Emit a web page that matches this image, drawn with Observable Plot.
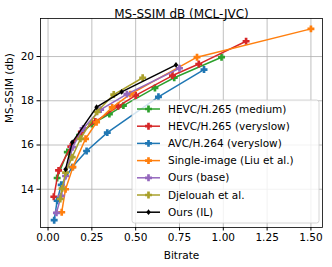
<!DOCTYPE html>
<html><head><meta charset="utf-8">
<script src="https://cdn.jsdelivr.net/npm/d3@7"></script>
<script src="https://cdn.jsdelivr.net/npm/@observablehq/plot@0.6"></script>
<style>body{margin:0;background:#fff;font-family:"DejaVu Sans",sans-serif}</style>
</head><body><div id="chart"></div>
<script>
const seriesNames = ["HEVC/H.265 (medium)","HEVC/H.265 (veryslow)","AVC/H.264 (veryslow)","Single-image (Liu et al.)","Ours (base)","Djelouah et al.","Ours (IL)"];
const seriesColors = ["#2ca02c","#d62728","#1f77b4","#ff7f0e","#9467bd","#a9a02c","#000000"];
const hevcMediumX = [0.052,0.11,0.18,0.25,0.35,0.43,0.61,0.72,0.99];
const hevcMediumY = [14.51,15.68,16.45,16.95,17.4,17.78,18.58,19.04,19.97];
const hevcSlowX = [0.033,0.06,0.13,0.19,0.27,0.40,0.50,0.71,0.86,1.13];
const hevcSlowY = [13.66,14.85,15.93,16.6,17.06,17.75,18.24,19.14,19.66,20.69];
const avcX = [0.035,0.052,0.075,0.138,0.22,0.338,0.63,0.89];
const avcY = [12.6,13.48,14.2,15.0,15.73,16.56,18.18,19.41];
const singleX = [0.078,0.10,0.142,0.214,0.277,0.366,0.47,0.85,1.50];
const singleY = [12.96,14.0,15.0,16.28,17.03,17.7,18.3,19.97,21.25];
const oursBaseX = [0.048,0.075,0.10,0.14,0.20,0.30,0.45,0.75];
const oursBaseY = [12.93,13.7,14.6,15.9,16.75,17.6,18.3,19.47];
const djelouahX = [0.07,0.08,0.10,0.138,0.185,0.28,0.375,0.54];
const djelouahY = [13.56,14.03,14.75,15.45,16.28,17.5,18.28,19.04];
const oursILX = [0.10,0.138,0.277,0.42,0.73];
const oursILY = [14.9,16.12,17.71,18.4,19.62];
const xTicks = [0,0.25,0.5,0.75,1.0,1.25,1.5];
const yTicks = [14,16,18,20];

const allX = [hevcMediumX,hevcSlowX,avcX,singleX,oursBaseX,djelouahX,oursILX];
const allY = [hevcMediumY,hevcSlowY,avcY,singleY,oursBaseY,djelouahY,oursILY];
const rows = [];
allX.forEach((xs,i)=>xs.forEach((x,j)=>rows.push({s:i,name:seriesNames[i],x,y:allY[i][j]})));

const plusFilled = {draw(ctx,size){const a=Math.sqrt(size/Math.PI)*1.05,h=a/2.6;
 ctx.moveTo(-h,-a);ctx.lineTo(h,-a);ctx.lineTo(h,-h);ctx.lineTo(a,-h);ctx.lineTo(a,h);ctx.lineTo(h,h);ctx.lineTo(h,a);ctx.lineTo(-h,a);ctx.lineTo(-h,h);ctx.lineTo(-a,h);ctx.lineTo(-a,-h);ctx.lineTo(-h,-h);ctx.closePath();}};
const diamond = {draw(ctx,size){const a=Math.sqrt(size/Math.PI)*1.1;ctx.moveTo(0,-a);ctx.lineTo(a*0.8,0);ctx.lineTo(0,a);ctx.lineTo(-a*0.8,0);ctx.closePath();}};

const marks = [
 Plot.gridX(xTicks,{stroke:"#b0b0b0",strokeOpacity:1,strokeWidth:0.8}),
 Plot.gridY(yTicks,{stroke:"#b0b0b0",strokeOpacity:1,strokeWidth:0.8}),
 Plot.frame({stroke:"#000",strokeWidth:0.8}),
 Plot.axisX({ticks:xTicks,tickFormat:d3.format(".2f"),tickSize:3.5,tickPadding:3,fontSize:10.5,label:null,color:"#000"}),
 Plot.axisY({ticks:yTicks,tickSize:3.5,tickPadding:3,fontSize:10.5,label:null}),
];
for(let i=0;i<seriesNames.length;i++){
 const d = rows.filter(r=>r.s===i);
 marks.push(Plot.line(d,{x:"x",y:"y",stroke:seriesColors[i],strokeWidth:1.5}));
 marks.push(Plot.dot(d,{x:"x",y:"y",fill:seriesColors[i],stroke:"none",r:i===6?2.6:3.3,symbol:i===6?diamond:plusFilled}));
}
marks.push(Plot.text(["MS-SSIM dB (MCL-JVC)"],{frameAnchor:"top",dy:-9,fontSize:12,fill:"#000"}));
marks.push(Plot.text(["Bitrate"],{frameAnchor:"bottom",dy:31,fontSize:10.5,fill:"#000"}));
marks.push(Plot.text(["MS-SSIM (db)"],{frameAnchor:"left",dx:-31,rotate:-90,fontSize:10.5,fill:"#000"}));

const chart = Plot.plot({
 width:332,height:267,marginLeft:40,marginRight:10,marginTop:18,marginBottom:40,
 style:{fontFamily:"DejaVu Sans, sans-serif",fontSize:"10.5px",color:"#000",background:"#fff"},
 x:{domain:[-0.043,1.566]},
 y:{domain:[12.27,21.72]},
 marks
});
document.getElementById("chart").append(chart);

// legend overlay
const svg = d3.select(chart);
const lg = svg.append("g").attr("text-anchor","start");
lg.append("rect").attr("x",132).attr("y",100).attr("width",187).attr("height",123).attr("rx",2.5)
 .attr("fill","#fff").attr("fill-opacity",0.8).attr("stroke","#cccccc").attr("stroke-width",0.8);
seriesNames.forEach((n,i)=>{
 const cy = 109 + i*17.2;
 lg.append("line").attr("x1",137).attr("x2",160).attr("y1",cy).attr("y2",cy).attr("stroke",seriesColors[i]).attr("stroke-width",1.5);
 const sym = d3.path(); (i===6?diamond:plusFilled).draw(sym, Math.PI*(i===6?2.6:3.3)**2);
 lg.append("path").attr("d",sym.toString()).attr("transform",`translate(148.5,${cy})`).attr("fill",seriesColors[i]);
 lg.append("text").attr("x",168).attr("y",cy).attr("dy","0.35em").attr("font-size",10.5).attr("text-anchor","start").attr("fill","#000").text(n);
});
</script></body></html>
